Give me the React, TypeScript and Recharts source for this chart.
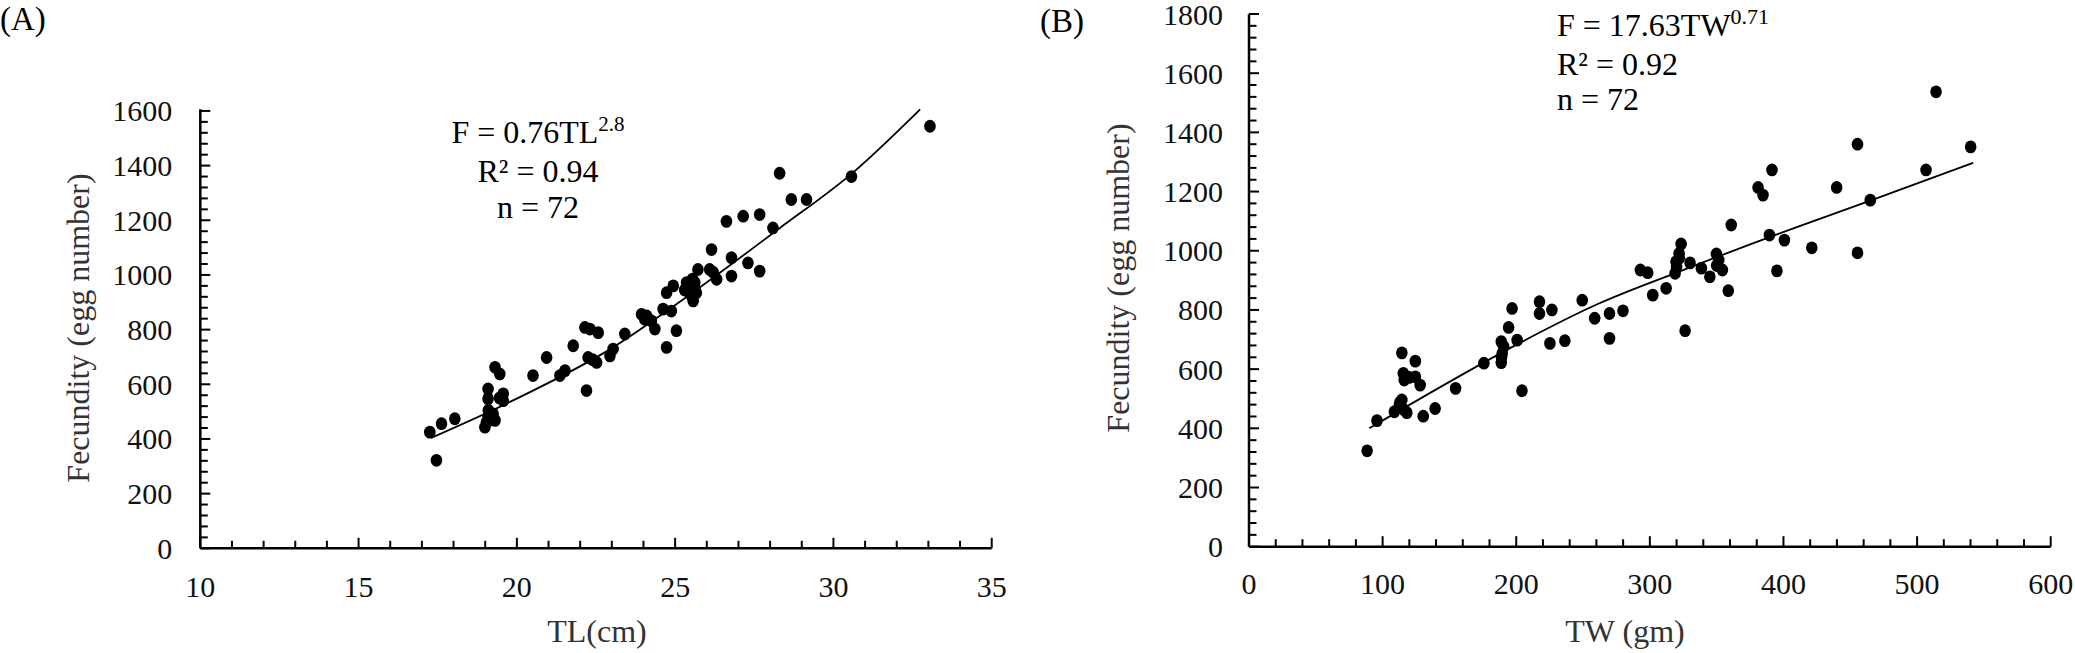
import React from 'react';
import { ScatterChart, Scatter, XAxis, YAxis } from 'recharts';

// (A) fecundity vs total length
const tlCm = [
  17.25, 17.46, 17.62, 18.04, 18.99, 19.04, 19.09, 19.25, 19.31, 19.09,
  19.09, 19.31, 19.46, 19.57, 19.57, 20.51, 20.94, 21.36, 21.52, 21.78,
  22.15, 22.31, 22.2, 22.25, 22.52, 22.57, 22.94, 23.04, 23.41, 23.94,
  24.04, 24.25, 24.36, 24.73, 24.62, 24.88, 25.04, 24.73, 24.94, 25.36,
  25.46, 25.52, 25.57, 25.67, 25.62, 25.72, 26.09, 26.15, 26.31, 26.78,
  26.78, 26.62, 27.15, 27.3, 27.67, 27.67, 28.09, 28.3, 28.67, 29.15,
  30.57, 33.05, 19.2, 19.45, 25.45, 25.6, 25.55, 22.4, 24.1, 25.3,
  26.2, 19.1,
];
const fecA = [
  425, 322, 456, 474, 443, 461, 480, 492, 468, 583,
  547, 662, 638, 565, 540, 632, 698, 632, 650, 741,
  808, 802, 577, 698, 680, 789, 704, 729, 784, 856,
  838, 832, 802, 735, 875, 868, 796, 935, 960, 972,
  948, 923, 905, 935, 972, 1020, 1020, 1093, 984, 1063,
  996, 1196, 1215, 1044, 1014, 1221, 1172, 1372, 1276, 1276,
  1360, 1544, 470, 550, 935, 955, 985, 690, 850, 945,
  1010, 505,
];
const fitTL = [17.29, 19.88, 23.04, 25.15, 28.31, 30.57, 32.74];
const fitFA = [404, 541, 735, 902, 1172, 1370, 1606];

// (B) fecundity vs total weight
const twGm = [
  88.4, 95.8, 108.8, 112.6, 114.4, 116.2, 118.1, 115.5, 116.2, 114.4,
  124.5, 124.5, 128.1, 130.4, 139.3, 154.6, 175.8, 188.8, 189.5, 190.6,
  188.8, 194.3, 196.9, 200.7, 204.3, 217.4, 217.4, 226.7, 225.2, 236.4,
  249.4, 258.7, 269.8, 269.8, 279.9, 292.9, 298.4, 302.2, 312.2, 318.9,
  319.6, 321.9, 323.4, 320, 330.1, 326.4, 338.6, 344.9, 349.8, 351.6,
  354.3, 358.7, 360.9, 381, 384.7, 391.4, 389.5, 395.1, 400.7, 421.2,
  439.8, 455.4, 455.4, 465, 506.7, 514.2, 540.1, 113, 120, 189,
  322, 350,
];
const fecB = [
  324, 426, 456, 479, 496, 462, 453, 586, 563, 655,
  627, 574, 546, 441, 467, 535, 620, 622, 653, 676,
  693, 741, 805, 698, 527, 828, 788, 800, 687, 696,
  833, 772, 788, 704, 797, 935, 926, 850, 873, 924,
  963, 991, 1023, 945, 959, 730, 941, 912, 989, 969,
  935, 865, 1087, 1214, 1188, 1273, 1053, 932, 1036, 1010,
  1214, 1360, 993, 1171, 1273, 1537, 1351, 488, 572, 640,
  975, 950,
];
const fitTW = [90, 150, 202, 261, 321, 410, 466, 542];
const fitFB = [400, 557, 687, 820, 928, 1080, 1171, 1297];

const xTicksA = [10, 15, 20, 25, 30, 35];
const yTicksA = [0, 200, 400, 600, 800, 1000, 1200, 1400, 1600];
const xTicksB = [0, 100, 200, 300, 400, 500, 600];
const yTicksB = [0, 200, 400, 600, 800, 1000, 1200, 1400, 1600, 1800];

const FONT = '"Liberation Serif", "Times New Roman", serif';

const zip = (xs: number[], ys: number[]) => xs.map((x, i) => ({ x, y: ys[i] }));

// major ticks plus the unlabeled minor ticks between them
const withMinor = (major: number[], step: number) => {
  const out: number[] = [];
  const end = major[major.length - 1];
  for (let v = major[0]; v <= end + 1e-6; v += step) out.push(Math.round(v * 100) / 100);
  return out;
};

const Dot = (p: any) => <ellipse cx={p.cx} cy={p.cy} rx={5.8} ry={6.4} fill="#000" />;
const NoDot = () => <g />;

const makeYTick = (majors: number[], gap: number) => (p: any) => {
  const major = majors.includes(p.payload.value);
  const ax = p.x + gap;
  return (
    <g>
      <line x1={ax} x2={ax + (major ? 10 : 7.5)} y1={p.y} y2={p.y} stroke="#000" strokeWidth={2} />
      {major && (
        <text x={p.x} y={p.y} dy="0.35em" textAnchor="end" fontFamily={FONT} fontSize={30} fill="#111">
          {p.payload.value}
        </text>
      )}
    </g>
  );
};

const makeXTick = (majors: number[], gap: number) => (p: any) => {
  const major = majors.includes(p.payload.value);
  const ay = p.y - gap;
  return (
    <g>
      <line x1={p.x} x2={p.x} y1={ay} y2={ay - (major ? 10.5 : 7.5)} stroke="#000" strokeWidth={2} />
      {major && (
        <text x={p.x} y={p.y} dy="0.35em" textAnchor="middle" fontFamily={FONT} fontSize={30} fill="#111">
          {p.payload.value}
        </text>
      )}
    </g>
  );
};

const axisLine = { stroke: '#000', strokeWidth: 2.5 };
const fitLine = { stroke: '#000', strokeWidth: 1.8 };

export default function App() {
  const ptsA = zip(tlCm, fecA);
  const lineA = zip(fitTL, fitFA);
  const ptsB = zip(twGm, fecB);
  const lineB = zip(fitTW, fitFB);

  return (
    <div style={{ position: 'absolute', left: 0, top: 0, width: 2075, height: 653, background: '#fff' }}>
      <div style={{ position: 'absolute', left: 0, top: 0 }}>
        <ScatterChart width={1040} height={653} margin={{ top: 109.3, right: 48.3, bottom: 44.7, left: 120.3 }}>
          <XAxis
            type="number" dataKey="x" domain={[10, 35]} ticks={withMinor(xTicksA, 1)} interval={0}
            height={60} tickSize={0} tickMargin={38} tickLine={false} axisLine={axisLine}
            tick={makeXTick(xTicksA, 38)}
          />
          <YAxis
            type="number" dataKey="y" domain={[0, 1600]} ticks={withMinor(yTicksA, 40)} interval={0}
            width={80} tickSize={0} tickMargin={28} tickLine={false} axisLine={axisLine}
            tick={makeYTick(yTicksA, 28)}
          />
          <Scatter data={ptsA} shape={Dot} isAnimationActive={false} />
          <Scatter data={lineA} shape={NoDot} line={fitLine} lineJointType="monotoneX" isAnimationActive={false} />
        </ScatterChart>
      </div>

      <div style={{ position: 'absolute', left: 1040, top: 0 }}>
        <ScatterChart width={1035} height={653} margin={{ top: 14, right: 24.3, bottom: 46.3, left: 129 }}>
          <XAxis
            type="number" dataKey="x" domain={[0, 600]} ticks={withMinor(xTicksB, 20)} interval={0}
            height={60} tickSize={0} tickMargin={37} tickLine={false} axisLine={axisLine}
            tick={makeXTick(xTicksB, 37)}
          />
          <YAxis
            type="number" dataKey="y" domain={[0, 1800]} ticks={withMinor(yTicksB, 40)} interval={0}
            width={80} tickSize={0} tickMargin={26} tickLine={false} axisLine={axisLine}
            tick={makeYTick(yTicksB, 26)}
          />
          <Scatter data={ptsB} shape={Dot} isAnimationActive={false} />
          <Scatter data={lineB} shape={NoDot} line={fitLine} lineJointType="monotoneX" isAnimationActive={false} />
        </ScatterChart>
      </div>

      <svg width={2075} height={653} style={{ position: 'absolute', left: 0, top: 0, pointerEvents: 'none' }} fontFamily={FONT}>
        <text x={0} y={30} fontSize={33} fill="#000">(A)</text>
        <text x={1040} y={32} fontSize={33} fill="#000">(B)</text>

        <g fontSize={32} fill="#000" textAnchor="middle">
          <text x={538} y={143}>F = 0.76TL<tspan dy={-12} fontSize={21}>2.8</tspan></text>
          <text x={538} y={182}>R² = 0.94</text>
          <text x={538} y={218}>n = 72</text>
        </g>
        <g fontSize={32} fill="#000">
          <text x={1557} y={36}>F = 17.63TW<tspan dy={-12} fontSize={22}>0.71</tspan></text>
          <text x={1557} y={75}>R² = 0.92</text>
          <text x={1557} y={110}>n = 72</text>
        </g>

        <g fontSize={32} fill="#333" textAnchor="middle">
          <text x={597} y={642}>TL(cm)</text>
          <text x={1625} y={642}>TW (gm)</text>
          <text x={78} y={328} dominantBaseline="central" transform="rotate(-90 78 328)">Fecundity (egg number)</text>
          <text x={1118} y={278} dominantBaseline="central" transform="rotate(-90 1118 278)">Fecundity (egg number)</text>
        </g>
      </svg>
    </div>
  );
}
